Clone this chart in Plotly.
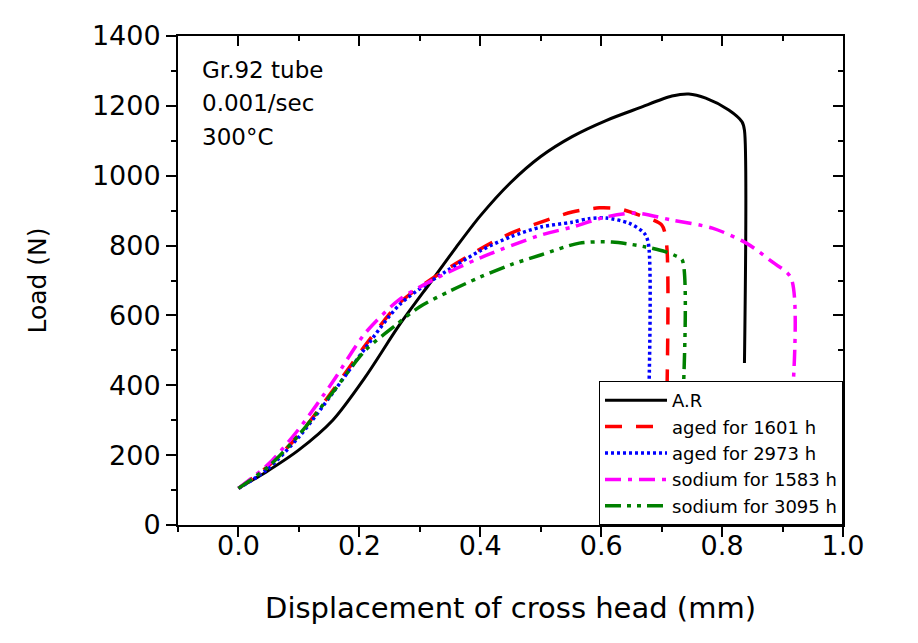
import plotly.graph_objects as go

# ---- data ----
series_names = ["A.R", "aged for 1601 h", "aged for 2973 h", "sodium for 1583 h", "sodium for 3095 h"]

ar_x = [0, 0.046, 0.1, 0.156, 0.21, 0.266, 0.32, 0.36, 0.4, 0.45, 0.5, 0.552, 0.608, 0.663, 0.717, 0.745, 0.773, 0.811, 0.833, 0.837, 0.837]
ar_y = [105, 152, 215, 300, 424, 572, 700, 795, 885, 980, 1055, 1112, 1158, 1194, 1228, 1234, 1222, 1188, 1154, 1130, 464]

a1601_x = [0, 0.05, 0.1, 0.156, 0.21, 0.266, 0.32, 0.4, 0.45, 0.51, 0.552, 0.597, 0.63, 0.663, 0.70, 0.708, 0.708]
a1601_y = [105, 170, 258, 385, 515, 635, 705, 790, 835, 873, 896, 908, 905, 887, 859, 807, 300]

a2973_x = [0, 0.046, 0.1, 0.156, 0.21, 0.266, 0.32, 0.4, 0.45, 0.5, 0.552, 0.58, 0.608, 0.646, 0.671, 0.678, 0.678]
a2973_y = [105, 157, 252, 378, 507, 630, 700, 785, 825, 853, 867, 877, 879, 864, 836, 807, 300]

s1583_x = [0, 0.05, 0.1, 0.156, 0.21, 0.266, 0.32, 0.4, 0.5, 0.552, 0.608, 0.658, 0.717, 0.784, 0.84, 0.883, 0.914, 0.914]
s1583_y = [105, 175, 275, 410, 550, 645, 700, 765, 830, 853, 882, 893, 873, 850, 807, 753, 707, 300]

s3095_x = [0, 0.05, 0.1, 0.156, 0.21, 0.26, 0.3, 0.35, 0.4, 0.45, 0.5, 0.564, 0.618, 0.674, 0.707, 0.724, 0.734, 0.734]
s3095_y = [105, 168, 258, 380, 500, 572, 625, 670, 710, 745, 773, 807, 810, 796, 782, 770, 759, 300]

x_ticks = [0.0, 0.2, 0.4, 0.6, 0.8, 1.0]
y_ticks = [0, 200, 400, 600, 800, 1000, 1200, 1400]
notes = ["Gr.92 tube", "0.001/sec", "300°C"]

FONT = "DejaVu Sans"

styles = [
    dict(color="black", width=3, dash="solid"),
    dict(color="red", width=3.5, dash="17px,14px"),
    dict(color="blue", width=3.5, dash="3px,3px"),
    dict(color="magenta", width=3.5, dash="16px,7px,4px,7px"),
    dict(color="green", width=3.5, dash="16px,6px,4px,6px,4px,6px"),
]
xs = [ar_x, a1601_x, a2973_x, s1583_x, s3095_x]
ys = [ar_y, a1601_y, a2973_y, s1583_y, s3095_y]

fig = go.Figure()
for name, x, y, st in zip(series_names, xs, ys, styles):
    fig.add_trace(go.Scatter(x=x, y=y, mode="lines", name=name,
                             line=dict(shape="spline", smoothing=0.8, **st)))

# invisible trace to activate mirrored (inside-tick) axes
fig.add_trace(go.Scatter(x=[None], y=[None], xaxis="x2", yaxis="y2",
                         showlegend=False, hoverinfo="skip"))

axis_common = dict(showgrid=False, zeroline=False, showline=True,
                   linecolor="black", linewidth=2, tickcolor="black",
                   tickwidth=2, tickfont=dict(family=FONT, size=27, color="black"))

fig.update_layout(
    width=910, height=635,
    margin=dict(l=170, r=75, t=28, b=118),
    plot_bgcolor="white", paper_bgcolor="white",
    font=dict(family=FONT, color="black"),
    xaxis=dict(range=[-0.1, 1.0], tickvals=x_ticks, tickformat=".1f",
               ticks="outside", ticklen=10, ticklabelstandoff=-14,
               minor=dict(ticks="outside", ticklen=5, dtick=0.1, tick0=0,
                          tickwidth=2, tickcolor="black"),
               title=dict(text="Displacement of cross head (mm)",
                          font=dict(family=FONT, size=29), standoff=37),
               **axis_common),
    yaxis=dict(range=[0, 1400], tickvals=y_ticks,
               ticks="outside", ticklen=10,
               minor=dict(ticks="outside", ticklen=5, dtick=100, tick0=0,
                          tickwidth=2, tickcolor="black"),
               title=dict(text="Load (N)", font=dict(family=FONT, size=25),
                          standoff=38),
               **axis_common),
    xaxis2=dict(range=[-0.1, 1.0], overlaying="x", side="top", anchor="y",
                tickvals=x_ticks, showticklabels=False, ticks="inside", ticklen=10,
                minor=dict(ticks="inside", ticklen=5, dtick=0.1, tick0=0,
                           tickwidth=2, tickcolor="black"),
                **axis_common),
    yaxis2=dict(range=[0, 1400], overlaying="y", side="right", anchor="x",
                tickvals=y_ticks, showticklabels=False, ticks="inside", ticklen=10,
                minor=dict(ticks="inside", ticklen=5, dtick=100, tick0=0,
                           tickwidth=2, tickcolor="black"),
                **axis_common),
    legend=dict(x=1, xanchor="right", y=0, yanchor="bottom",
                bgcolor="white", bordercolor="black", borderwidth=1,
                font=dict(family=FONT, size=18, color="black"),
                itemwidth=62, tracegroupgap=0),
    showlegend=True,
)

for txt, yp in zip(notes, [0.930, 0.862, 0.793]):
    fig.add_annotation(text=txt, xref="paper", yref="paper", x=0.033, y=yp,
                       xanchor="left", yanchor="middle", showarrow=False,
                       font=dict(family=FONT, size=23, color="black"))

fig.write_html("out.html")
